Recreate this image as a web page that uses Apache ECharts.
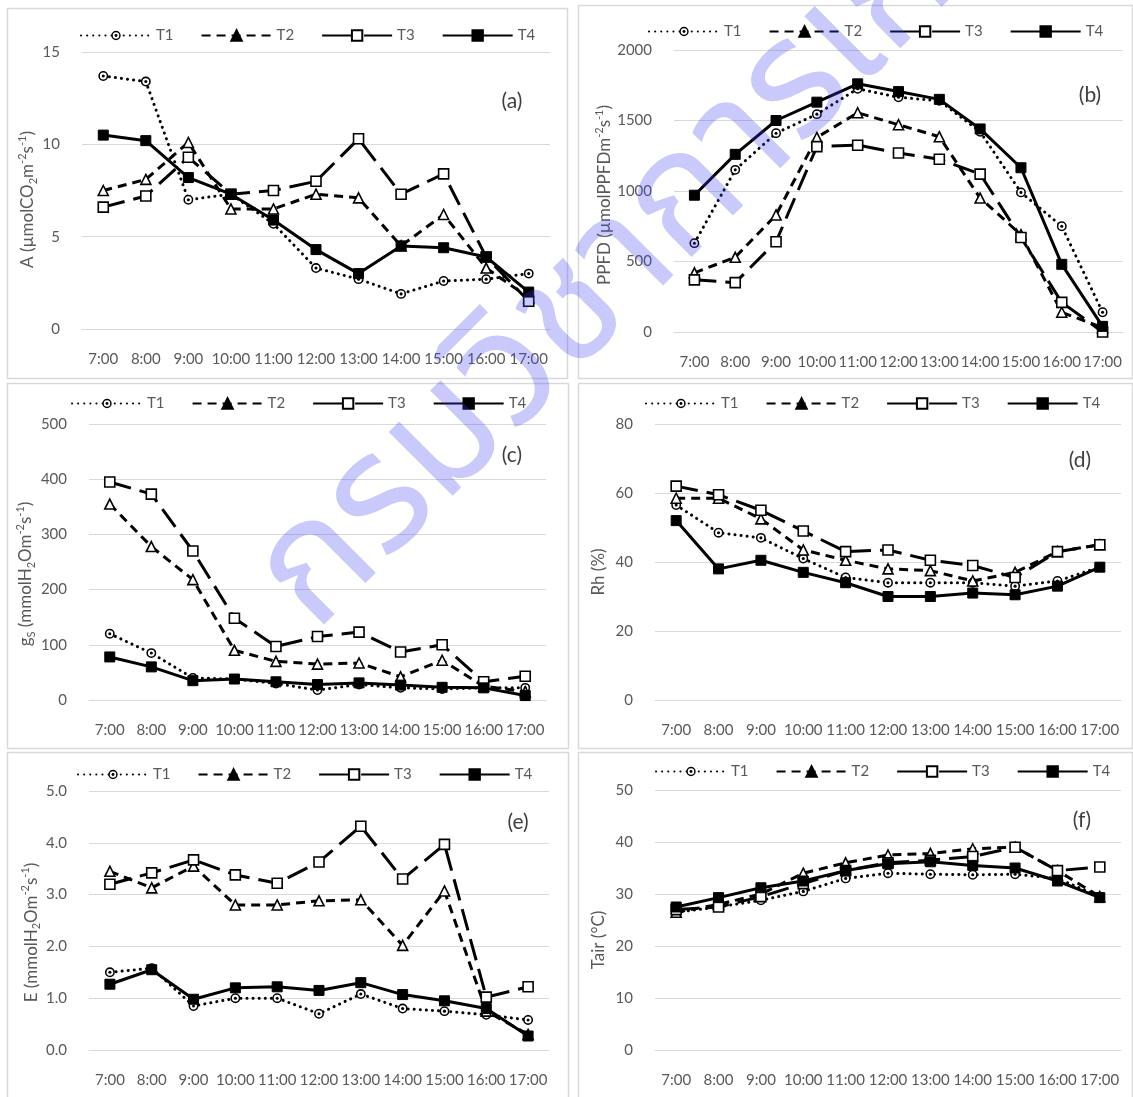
<!DOCTYPE html>
<html><head><meta charset="utf-8">
<script src="https://cdn.jsdelivr.net/npm/echarts@6/dist/echarts.min.js"></script>
<style>html,body{margin:0;padding:0;background:#fff}#c{width:1133px;height:1097px}</style>
</head><body><div id="c"></div>
<script>
const categories = ['7:00','8:00','9:00','10:00','11:00','12:00','13:00','14:00','15:00','16:00','17:00'];
const seriesNames = ['T1','T2','T3','T4'];

// (a) A
const A_T1 = [13.7, 13.4, 7.0, 7.3, 5.7, 3.3, 2.7, 1.9, 2.6, 2.7, 3.0];
const A_T2 = [7.5, 8.1, 10.1, 6.5, 6.5, 7.3, 7.1, 4.5, 6.2, 3.3, 1.7];
const A_T3 = [6.6, 7.2, 9.3, 7.3, 7.5, 8.0, 10.3, 7.3, 8.4, 3.9, 1.5];
const A_T4 = [10.5, 10.2, 8.2, 7.3, 5.9, 4.3, 3.0, 4.5, 4.4, 3.9, 2.0];
// (b) PPFD
const P_T1 = [630, 1150, 1410, 1545, 1725, 1665, 1640, 1420, 990, 750, 140];
const P_T2 = [420, 530, 830, 1380, 1555, 1470, 1385, 950, 690, 140, 30];
const P_T3 = [370, 350, 640, 1315, 1325, 1270, 1225, 1120, 670, 210, 0];
const P_T4 = [970, 1260, 1500, 1630, 1760, 1705, 1650, 1440, 1165, 480, 40];
// (c) gs
const G_T1 = [120, 85, 40, 38, 30, 18, 28, 22, 20, 22, 22];
const G_T2 = [355, 278, 218, 90, 70, 65, 67, 42, 72, 25, 15];
const G_T3 = [395, 373, 270, 148, 97, 115, 123, 87, 100, 33, 43];
const G_T4 = [78, 60, 35, 38, 33, 28, 31, 27, 23, 22, 8];
// (d) Rh
const R_T1 = [56.5, 48.5, 47, 41, 35.5, 34, 34, 34, 33, 34.5, 38.5];
const R_T2 = [58.5, 58.5, 52.5, 43.5, 40.5, 38, 37.5, 34.5, 37, 43, 45];
const R_T3 = [62, 59.5, 55, 49, 43, 43.5, 40.5, 39, 35.5, 43, 45];
const R_T4 = [52, 38, 40.5, 37, 34, 30, 30, 31, 30.5, 33, 38.5];
// (e) E
const E_T1 = [1.5, 1.58, 0.85, 1.0, 1.0, 0.7, 1.08, 0.8, 0.75, 0.68, 0.58];
const E_T2 = [3.45, 3.13, 3.55, 2.8, 2.8, 2.88, 2.9, 2.02, 3.07, 0.75, 0.3];
const E_T3 = [3.2, 3.42, 3.67, 3.38, 3.22, 3.63, 4.32, 3.3, 3.97, 1.02, 1.22];
const E_T4 = [1.27, 1.55, 0.98, 1.2, 1.22, 1.15, 1.3, 1.07, 0.95, 0.8, 0.27];
// (f) Tair
const T_T1 = [26.5, 27.5, 28.8, 30.5, 33, 34, 33.8, 33.7, 33.8, 33, 29.5];
const T_T2 = [26.5, 28, 30, 34, 36, 37.5, 37.8, 38.7, 39, 34.5, 29.5];
const T_T3 = [27, 27.5, 29.5, 32, 34.5, 36, 36.5, 37.2, 39, 34.5, 35.2];
const T_T4 = [27.5, 29.3, 31.2, 32.5, 34.5, 35.8, 36.2, 35.5, 35, 32.5, 29.3];

const panelLabels = ['(a)','(b)','(c)','(d)','(e)','(f)'];
const yMin = [0,0,0,0,0,0];
const yMax = [15,2000,500,80,5,50];
const yStep = [5,500,100,20,1,10];
const yNames = [
  '{n|A (µmolCO}{sub|2}{n|m}{sup|-2}{n|s}{sup|-1}{n|)}',
  '{n|PPFD (µmolPPFDm}{sup|-2}{n|s}{sup|-1}{n|)}',
  '{n|g}{sub|S}{n| (mmolH}{sub|2}{n|Om}{sup|-2}{n|s}{sup|-1}{n|)}',
  '{n|Rh (%)}',
  '{n|E (mmolH}{sub|2}{n|Om}{sup|-2}{n|s}{sup|-1}{n|)}',
  '{n|Tair (°C)}'
];
const watermarkText = 'กรมวิชาการเกษตร';
const panelData = [
  [A_T1, A_T2, A_T3, A_T4],
  [P_T1, P_T2, P_T3, P_T4],
  [G_T1, G_T2, G_T3, G_T4],
  [R_T1, R_T2, R_T3, R_T4],
  [E_T1, E_T2, E_T3, E_T4],
  [T_T1, T_T2, T_T3, T_T4]
];

// layout (pixels)
const grids = [
  {left: 82, top: 52, width: 468, height: 277},
  {left: 674, top: 50, width: 449, height: 282},
  {left: 89, top: 424, width: 457, height: 276},
  {left: 655, top: 424, width: 466, height: 276},
  {left: 89, top: 791, width: 460, height: 259},
  {left: 655, top: 790, width: 466, height: 260}
];
const legendPos = [
  {left: 75, top: 23}, {left: 643, top: 19}, {left: 66, top: 391},
  {left: 640, top: 391}, {left: 72, top: 762}, {left: 650, top: 759}
];
const namePadRight = [18, 8, 24, 20, 24, 40];
const nameGaps = [42, 50, 41, 45, 45, 45];
const labelPos = [[512,101],[1090,95],[512,455],[1080,460],[518,822],[1082,820]];
const boxes = [
  [7,8,560,370],[578,5,554,373],[7,383,561,365],[578,383,554,365],[7,752,561,360],[578,752,554,360]
];

const GRAY = '#595959';
const FONT = 'Lato';

const ringDot = 'image://data:image/svg+xml;charset=utf-8,' + encodeURIComponent(
  '<svg xmlns="http://www.w3.org/2000/svg" width="20" height="20"><circle cx="10" cy="10" r="7.6" fill="white" stroke="black" stroke-width="2.8"/><circle cx="10" cy="10" r="2.8" fill="black"/></svg>');

const styles = [
  {line: {type: [0.1, 6], cap: 'round', width: 3}, symbol: ringDot, size: 11, item: {color: '#000'}},
  {line: {type: [9, 6], width: 3}, symbol: 'triangle', size: 10, item: {color: '#fff', borderColor: '#000', borderWidth: 1.6}},
  {line: {type: [22, 9], width: 3}, symbol: 'rect', size: 10, item: {color: '#fff', borderColor: '#000', borderWidth: 1.6}},
  {line: {type: 'solid', width: 3}, symbol: 'rect', size: 10, item: {color: '#000', borderColor: '#000', borderWidth: 1}}
];

const option = {
  animation: false,
  backgroundColor: '#fff',
  textStyle: {fontFamily: FONT},
  grid: grids.map(g => Object.assign({containLabel: false}, g)),
  legend: legendPos.map(p => ({
    left: p.left, top: p.top, itemWidth: 70, itemHeight: 13, itemGap: 27,
    textStyle: {color: GRAY, fontSize: 15, fontFamily: FONT},
    data: [
      {name: 'T1'},
      {name: 'T2', itemStyle: {color: '#000', borderColor: '#000'}},
      {name: 'T3', lineStyle: {type: [30, 12]}},
      {name: 'T4'}
    ]
  })),
  xAxis: grids.map((g, i) => ({
    type: 'category', gridIndex: i, data: categories, boundaryGap: true,
    axisLine: {show: true, lineStyle: {color: '#d9d9d9', width: 1}},
    axisTick: {show: false},
    axisLabel: {color: GRAY, fontSize: 15, margin: 23, interval: 0, fontFamily: FONT}
  })),
  yAxis: grids.map((g, i) => ({
    type: 'value', gridIndex: i, min: yMin[i], max: yMax[i], interval: yStep[i],
    axisLine: {show: false}, axisTick: {show: false},
    splitLine: {lineStyle: {color: '#d9d9d9', width: 1}},
    axisLabel: {color: GRAY, fontSize: 15, margin: 22, fontFamily: FONT,
      formatter: v => i === 4 ? v.toFixed(1) : String(v)},
    name: yNames[i], nameLocation: 'middle', nameRotate: 90,
    nameGap: nameGaps[i],
    nameTextStyle: {
      padding: [0, namePadRight[i], 0, 0],
      rich: {
        n: {fontSize: 17, color: GRAY, fontFamily: FONT, lineHeight: 22},
        sub: {fontSize: 11, color: GRAY, fontFamily: FONT, lineHeight: 11, verticalAlign: 'bottom'},
        sup: {fontSize: 11, color: GRAY, fontFamily: FONT, lineHeight: 11, verticalAlign: 'top'}
      }
    }
  })),
  series: [],
  graphic: []
};

panelData.forEach((pd, i) => {
  pd.forEach((vals, k) => {
    const s = styles[k];
    option.series.push({
      type: 'line', name: seriesNames[k], xAxisIndex: i, yAxisIndex: i,
      data: vals, symbol: s.symbol, symbolSize: s.size, showAllSymbol: true,
      lineStyle: Object.assign({color: '#000'}, s.line),
      itemStyle: s.item, z: 2 + k
    });
  });
});

boxes.forEach(b => option.graphic.push({
  type: 'rect', shape: {x: b[0] + 0.5, y: b[1] + 0.5, width: b[2], height: b[3]},
  style: {fill: 'none', stroke: '#d9d9d9', lineWidth: 1.5}, z: 0, silent: true
}));
labelPos.forEach((p, i) => option.graphic.push({
  type: 'text', x: p[0], y: p[1],
  style: {text: panelLabels[i], fill: '#404040', fontSize: 21, fontFamily: FONT, align: 'center', verticalAlign: 'middle'},
  z: 10
}));
option.graphic.push({
  type: 'text', x: 350, y: 668, rotation: Math.PI / 4,
  style: {text: watermarkText, fill: 'rgba(60,60,240,0.28)', fontSize: 165,
    fontFamily: '"Noto Sans Thai", Loma, Garuda, "Noto Sans Thai Looped", sans-serif', fontWeight: 'normal',
    align: 'left', verticalAlign: 'bottom'},
  z: 100, silent: true
});

const chart = echarts.init(document.getElementById('c'), null, {renderer: 'canvas'});
chart.setOption(option);
</script>
</body></html>
